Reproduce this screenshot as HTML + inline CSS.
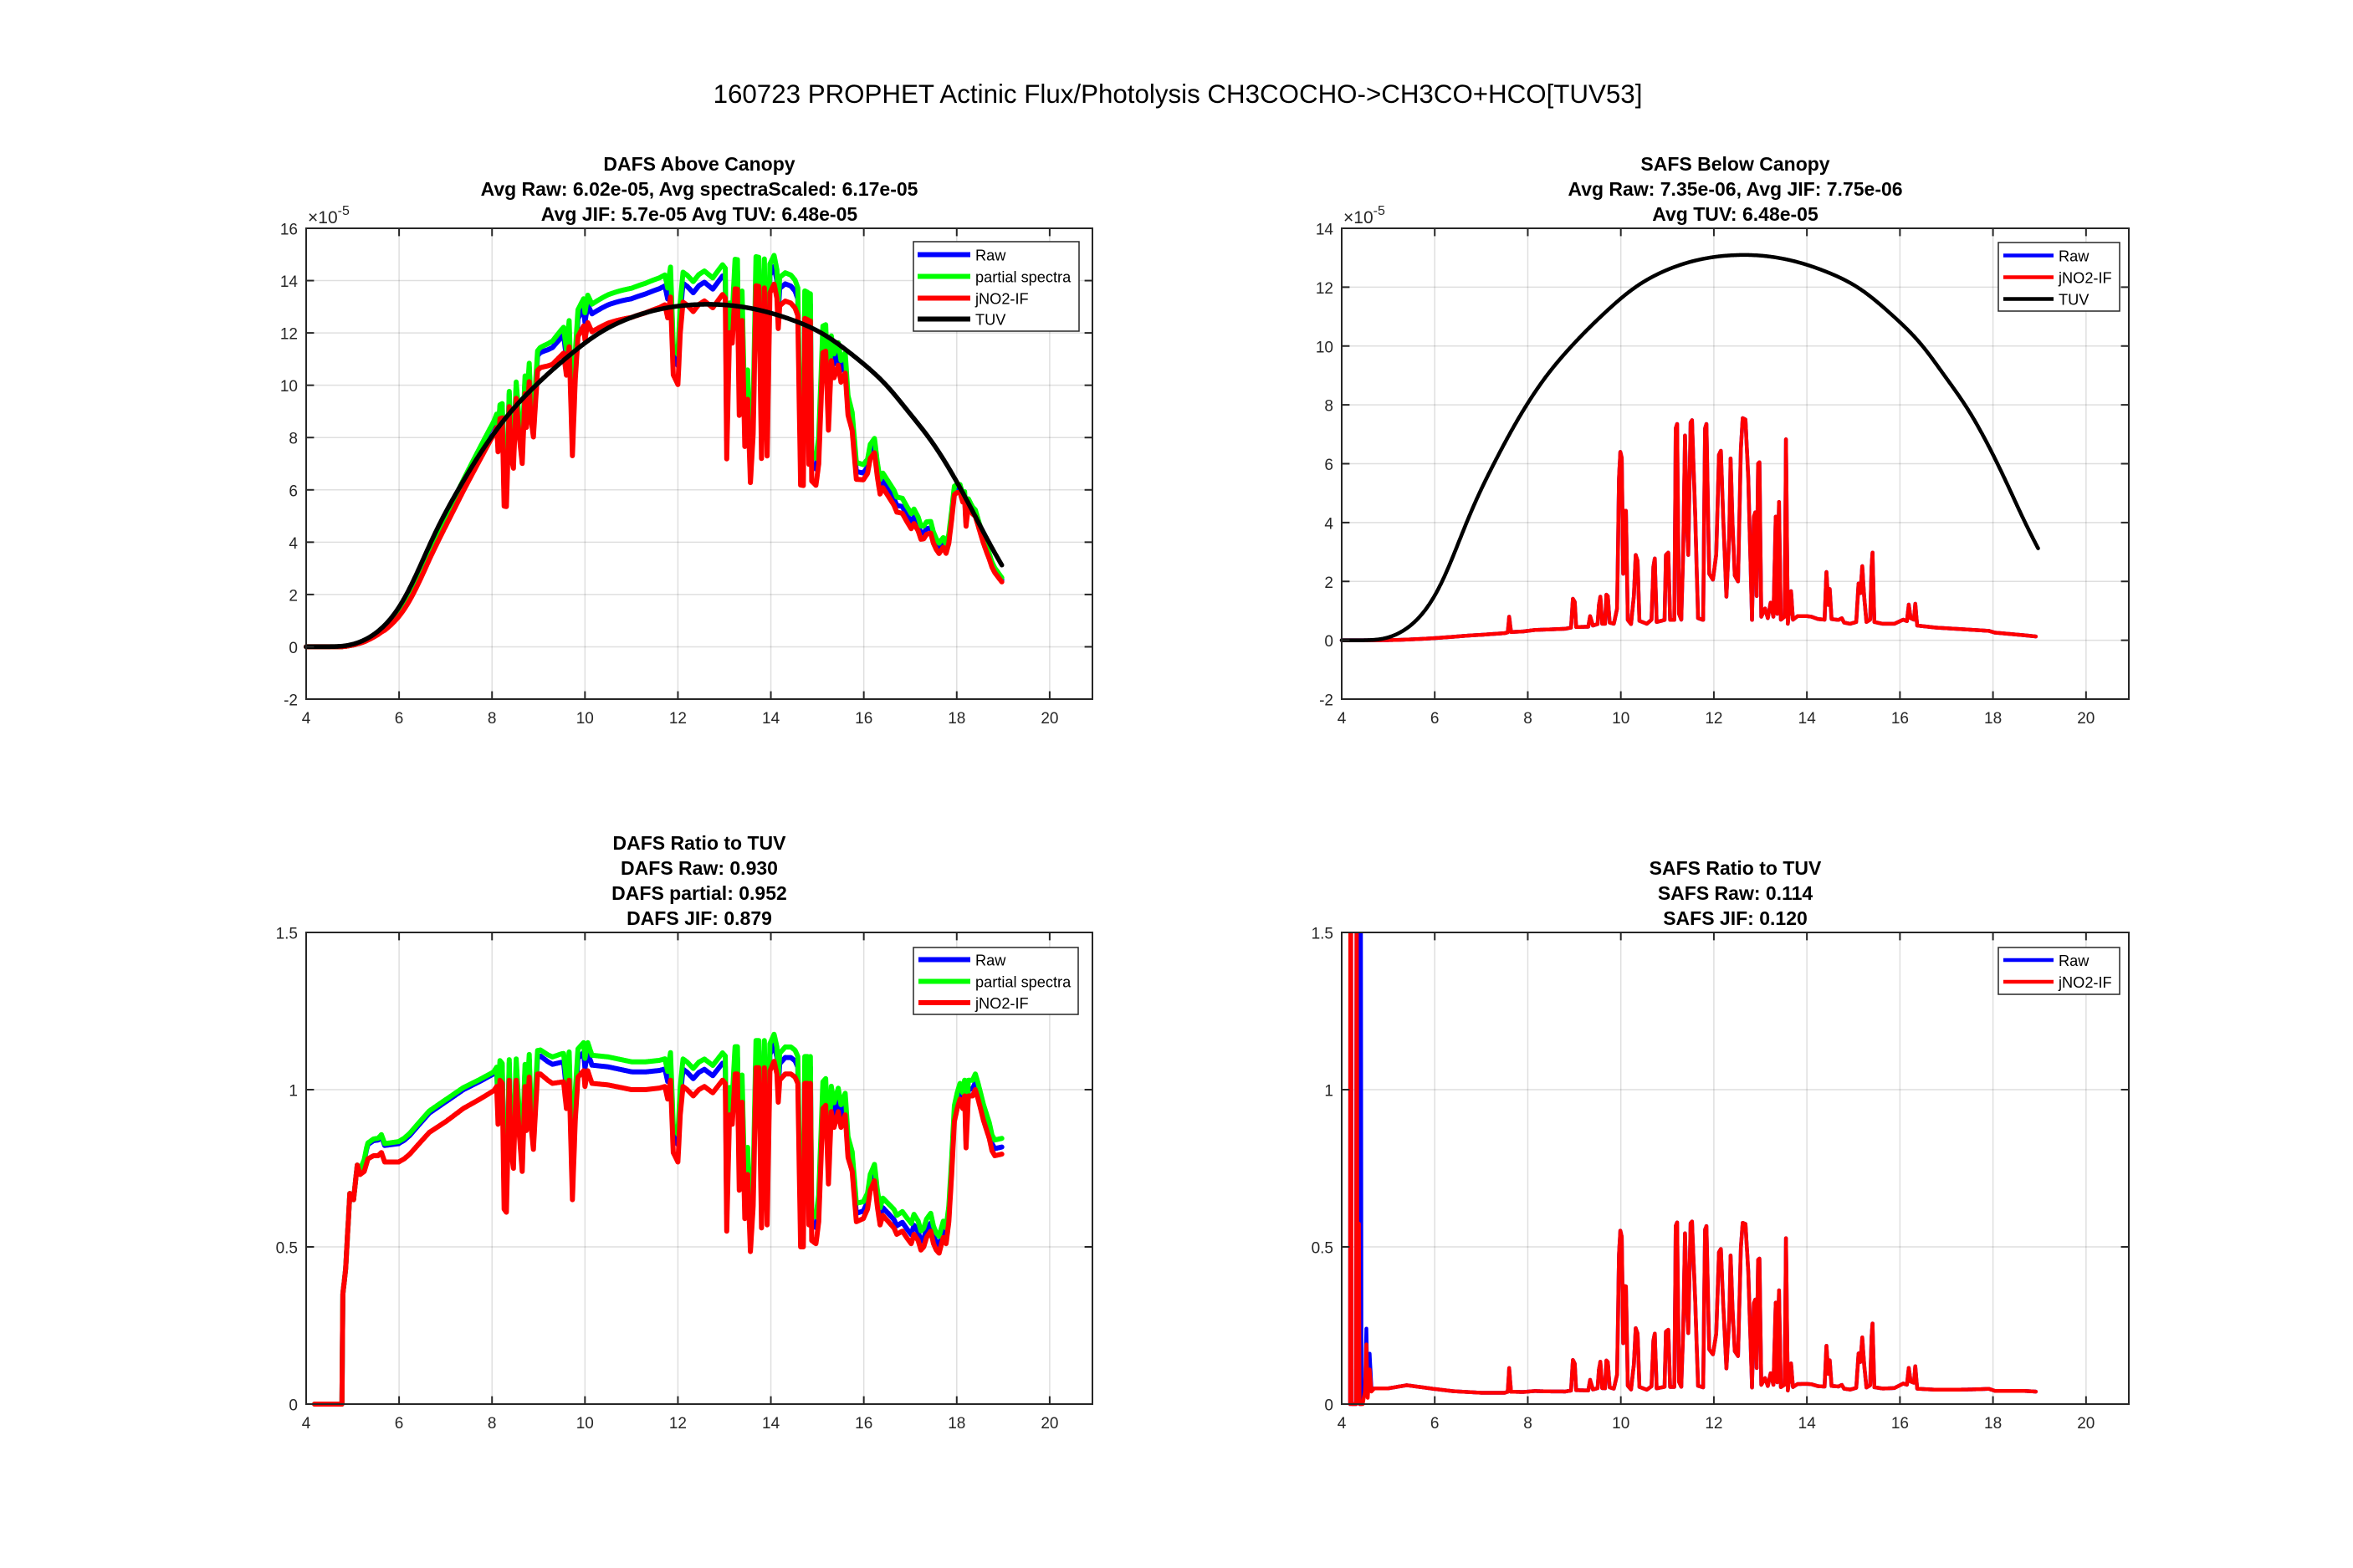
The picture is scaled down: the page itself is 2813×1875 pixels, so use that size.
<!DOCTYPE html>
<html><head><meta charset="utf-8">
<style>
html,body{margin:0;padding:0;background:#fff;overflow:hidden;}
svg{display:block}
text{font-family:"Liberation Sans",Arial,Helvetica,sans-serif;}
.tk{font-size:19px;fill:#262626}
.ti{font-size:23px;font-weight:bold;fill:#000}
.lg{font-size:18.2px;fill:#000}
</style></head><body>
<svg id="chart" width="2813" height="1875" viewBox="0 0 2813 1875" xmlns="http://www.w3.org/2000/svg">
<rect x="0" y="0" width="2813" height="1875" fill="#fff"/>
<g id="grid"></g>
<g id="data"></g>
<g id="axes"></g>

<!-- main title -->
<text x="1408" y="123" text-anchor="middle" font-size="31.3" fill="#000">160723 PROPHET Actinic Flux/Photolysis CH3COCHO-&gt;CH3CO+HCO[TUV53]</text>

<!-- subplot titles -->
<text class="ti" x="836" y="204" text-anchor="middle">DAFS Above Canopy</text>
<text class="ti" x="836" y="234" text-anchor="middle">Avg Raw: 6.02e-05, Avg spectraScaled: 6.17e-05</text>
<text class="ti" x="836" y="264" text-anchor="middle">Avg JIF: 5.7e-05 Avg TUV: 6.48e-05</text>

<text class="ti" x="2074.5" y="204" text-anchor="middle">SAFS Below Canopy</text>
<text class="ti" x="2074.5" y="234" text-anchor="middle">Avg Raw: 7.35e-06, Avg JIF: 7.75e-06</text>
<text class="ti" x="2074.5" y="264" text-anchor="middle">Avg TUV: 6.48e-05</text>

<text class="ti" x="836" y="1016" text-anchor="middle">DAFS Ratio to TUV</text>
<text class="ti" x="836" y="1046" text-anchor="middle">DAFS Raw: 0.930</text>
<text class="ti" x="836" y="1076" text-anchor="middle">DAFS partial: 0.952</text>
<text class="ti" x="836" y="1106" text-anchor="middle">DAFS JIF: 0.879</text>

<text class="ti" x="2074.5" y="1046" text-anchor="middle">SAFS Ratio to TUV</text>
<text class="ti" x="2074.5" y="1076" text-anchor="middle">SAFS Raw: 0.114</text>
<text class="ti" x="2074.5" y="1106" text-anchor="middle">SAFS JIF: 0.120</text>

<!-- exponent labels -->
<text x="368" y="267" font-size="21" fill="#262626">×10<tspan dy="-10" font-size="16">-5</tspan></text>
<text x="1606" y="267" font-size="21" fill="#262626">×10<tspan dy="-10" font-size="16">-5</tspan></text>

<!-- x tick labels -->
<g class="tk" text-anchor="middle">
<text x="366" y="865">4</text><text x="477.1" y="865">6</text><text x="588.2" y="865">8</text><text x="699.3" y="865">10</text><text x="810.4" y="865">12</text><text x="921.6" y="865">14</text><text x="1032.7" y="865">16</text><text x="1143.8" y="865">18</text><text x="1254.9" y="865">20</text>
<text x="1604" y="865">4</text><text x="1715.2" y="865">6</text><text x="1826.5" y="865">8</text><text x="1937.7" y="865">10</text><text x="2048.9" y="865">12</text><text x="2160.2" y="865">14</text><text x="2271.4" y="865">16</text><text x="2382.6" y="865">18</text><text x="2493.8" y="865">20</text>
<text x="366" y="1708">4</text><text x="477.1" y="1708">6</text><text x="588.2" y="1708">8</text><text x="699.3" y="1708">10</text><text x="810.4" y="1708">12</text><text x="921.6" y="1708">14</text><text x="1032.7" y="1708">16</text><text x="1143.8" y="1708">18</text><text x="1254.9" y="1708">20</text>
<text x="1604" y="1708">4</text><text x="1715.2" y="1708">6</text><text x="1826.5" y="1708">8</text><text x="1937.7" y="1708">10</text><text x="2048.9" y="1708">12</text><text x="2160.2" y="1708">14</text><text x="2271.4" y="1708">16</text><text x="2382.6" y="1708">18</text><text x="2493.8" y="1708">20</text>
</g>

<!-- y tick labels -->
<g class="tk" text-anchor="end">
<text x="356" y="843.5">-2</text><text x="356" y="780.9">0</text><text x="356" y="718.4">2</text><text x="356" y="655.8">4</text><text x="356" y="593.3">6</text><text x="356" y="530.7">8</text><text x="356" y="468.2">10</text><text x="356" y="405.6">12</text><text x="356" y="343.1">14</text><text x="356" y="280.5">16</text>
<text x="1594" y="843.5">-2</text><text x="1594" y="773.1">0</text><text x="1594" y="702.8">2</text><text x="1594" y="632.4">4</text><text x="1594" y="562">6</text><text x="1594" y="491.6">8</text><text x="1594" y="421.3">10</text><text x="1594" y="350.9">12</text><text x="1594" y="280.5">14</text>
<text x="356" y="1686.5">0</text><text x="356" y="1498.5">0.5</text><text x="356" y="1310.5">1</text><text x="356" y="1122.5">1.5</text>
<text x="1594" y="1686.5">0</text><text x="1594" y="1498.5">0.5</text><text x="1594" y="1310.5">1</text><text x="1594" y="1122.5">1.5</text>
</g>

<!-- legend 1 -->
<rect x="1092" y="289" width="198" height="107" fill="#fff" stroke="#262626" stroke-width="1.5"/>
<line x1="1097" y1="304.5" x2="1160" y2="304.5" stroke="#0000ff" stroke-width="6"/>
<line x1="1097" y1="330.5" x2="1160" y2="330.5" stroke="#00ff00" stroke-width="6"/>
<line x1="1097" y1="356.5" x2="1160" y2="356.5" stroke="#ff0000" stroke-width="6"/>
<line x1="1097" y1="381.5" x2="1160" y2="381.5" stroke="#000000" stroke-width="6"/>
<text class="lg" x="1166" y="311.5">Raw</text>
<text class="lg" x="1166" y="337.5">partial spectra</text>
<text class="lg" x="1166" y="363.5">jNO2-IF</text>
<text class="lg" x="1166" y="388.5">TUV</text>

<!-- legend 2 -->
<rect x="2389" y="290" width="145" height="82" fill="#fff" stroke="#262626" stroke-width="1.5"/>
<line x1="2395" y1="305.5" x2="2455" y2="305.5" stroke="#0000ff" stroke-width="4.5"/>
<line x1="2395" y1="331.5" x2="2455" y2="331.5" stroke="#ff0000" stroke-width="4.5"/>
<line x1="2395" y1="357.5" x2="2455" y2="357.5" stroke="#000000" stroke-width="4.5"/>
<text class="lg" x="2461" y="312.5">Raw</text>
<text class="lg" x="2461" y="338.5">jNO2-IF</text>
<text class="lg" x="2461" y="364.5">TUV</text>

<!-- legend 3 -->
<rect x="1092" y="1133" width="197" height="80" fill="#fff" stroke="#262626" stroke-width="1.5"/>
<line x1="1098" y1="1147.5" x2="1160" y2="1147.5" stroke="#0000ff" stroke-width="6"/>
<line x1="1098" y1="1173.5" x2="1160" y2="1173.5" stroke="#00ff00" stroke-width="6"/>
<line x1="1098" y1="1199" x2="1160" y2="1199" stroke="#ff0000" stroke-width="6"/>
<text class="lg" x="1166" y="1154.5">Raw</text>
<text class="lg" x="1166" y="1180.5">partial spectra</text>
<text class="lg" x="1166" y="1206">jNO2-IF</text>

<!-- legend 4 -->
<rect x="2389" y="1133" width="145" height="56" fill="#fff" stroke="#262626" stroke-width="1.5"/>
<line x1="2395" y1="1148" x2="2455" y2="1148" stroke="#0000ff" stroke-width="4.5"/>
<line x1="2395" y1="1174" x2="2455" y2="1174" stroke="#ff0000" stroke-width="4.5"/>
<text class="lg" x="2461" y="1155">Raw</text>
<text class="lg" x="2461" y="1181">jNO2-IF</text>
</svg>

<script>
(function(){
var NS='http://www.w3.org/2000/svg';
var svg=document.getElementById('chart');
var gGrid=document.getElementById('grid'), gData=document.getElementById('data'), gAxes=document.getElementById('axes');
function mk(p,tag,at){var e=document.createElementNS(NS,tag);for(var k in at)e.setAttribute(k,at[k]);p.appendChild(e);return e;}
var XS=4, XW=16.92;
var A=[
 {L:366,R:1306,T:273,B:836,y0:-2,y1:16,yt:[-2,0,2,4,6,8,10,12,14,16]},
 {L:1604,R:2545,T:273,B:836,y0:-2,y1:14,yt:[-2,0,2,4,6,8,10,12,14]},
 {L:366,R:1306,T:1115,B:1679,y0:0,y1:1.5,yt:[0,0.5,1,1.5]},
 {L:1604,R:2545,T:1115,B:1679,y0:0,y1:1.5,yt:[0,0.5,1,1.5]}];
var XT=[4,6,8,10,12,14,16,18,20];
function X(a,t){return a.L+(t-XS)/XW*(a.R-a.L);}
function Y(a,v){return a.B-(v-a.y0)/(a.y1-a.y0)*(a.B-a.T);}
var defs=mk(svg,'defs',{});
A.forEach(function(a,i){
  var cp=mk(defs,'clipPath',{id:'c'+i});
  mk(cp,'rect',{x:a.L-3,y:a.T,width:a.R-a.L+6,height:a.B-a.T+5});
  XT.forEach(function(t){
    var x=X(a,t);
    if(t>4) mk(gGrid,'line',{x1:x,x2:x,y1:a.T,y2:a.B,stroke:'#262626','stroke-opacity':0.15,'stroke-width':1.5});
    mk(gAxes,'line',{x1:x,x2:x,y1:a.B,y2:a.B-9.4,stroke:'#262626','stroke-width':2});
    mk(gAxes,'line',{x1:x,x2:x,y1:a.T,y2:a.T+9.4,stroke:'#262626','stroke-width':2});
  });
  a.yt.forEach(function(v){
    var y=Y(a,v);
    if(v>a.y0 && v<a.y1) mk(gGrid,'line',{x1:a.L,x2:a.R,y1:y,y2:y,stroke:'#262626','stroke-opacity':0.15,'stroke-width':1.5});
    mk(gAxes,'line',{x1:a.L,x2:a.L+9.4,y1:y,y2:y,stroke:'#262626','stroke-width':2});
    mk(gAxes,'line',{x1:a.R,x2:a.R-9.4,y1:y,y2:y,stroke:'#262626','stroke-width':2});
  });
  mk(gAxes,'rect',{x:a.L,y:a.T,width:a.R-a.L,height:a.B-a.T,fill:'none',stroke:'#262626','stroke-width':2});
});

function lin(P,t){
  var n=P.length; if(t<=P[0][0]) return P[0][1]; if(t>=P[n-1][0]) return P[n-1][1];
  var lo=0,hi=n-1; while(hi-lo>1){var m=(lo+hi)>>1; if(P[m][0]<=t) lo=m; else hi=m;}
  var t0=P[lo][0],v0=P[lo][1],t1=P[hi][0],v1=P[hi][1];
  return v0+(v1-v0)*(t-t0)/(t1-t0);
}
function mono(pts){
  var n=pts.length, xs=pts.map(function(p){return p[0];}), ys=pts.map(function(p){return p[1];});
  var d=[],m=[],i;
  for(i=0;i<n-1;i++) d.push((ys[i+1]-ys[i])/(xs[i+1]-xs[i]));
  m[0]=d[0]; m[n-1]=d[n-2];
  for(i=1;i<n-1;i++){ if(d[i-1]*d[i]<=0) m[i]=0; else m[i]=(d[i-1]+d[i])/2; }
  for(i=0;i<n-1;i++){
    if(d[i]===0){m[i]=0;m[i+1]=0;continue;}
    var a=m[i]/d[i], b=m[i+1]/d[i], s=a*a+b*b;
    if(s>9){var tau=3/Math.sqrt(s); m[i]=tau*a*d[i]; m[i+1]=tau*b*d[i];}
  }
  return function(x){
    if(x<=xs[0]) return ys[0]; if(x>=xs[n-1]) return ys[n-1];
    var k=0; while(x>xs[k+1]) k++;
    var h=xs[k+1]-xs[k], t=(x-xs[k])/h, t2=t*t, t3=t2*t;
    return (2*t3-3*t2+1)*ys[k]+(t3-2*t2+t)*h*m[k]+(-2*t3+3*t2)*ys[k+1]+(t3-t2)*h*m[k+1];
  };
}
var TUVP=[[4,0],[4.6,0],[4.8,0.01],[5.0,0.07],[5.2,0.19],[5.4,0.37],[5.6,0.63],[5.8,0.98],[6.0,1.45],[6.15,1.9],[6.4,2.85],[6.65,3.9],[6.95,5.0],[7.27,6.0],[7.6,7.0],[7.97,8.0],[8.4,9.0],[8.94,10.0],[9.5,10.9],[10.3,12.0],[11.0,12.6],[11.8,12.98],[12.68,13.1],[13.5,12.97],[14.3,12.6],[15.1,12.0],[15.8,11.1],[16.5,10.0],[16.95,9.0],[17.41,8.0],[17.78,7.0],[18.1,6.0],[18.4,5.0],[18.68,4.0],[18.97,3.12]];
var TUV0=mono(TUVP);
// Smoothed TUV (gaussian) to remove interpolation kinks
var TG0=3.5, TGd=0.01, TGn=1601, rawT=[], smT=[];
for(var i=0;i<TGn;i++){var t=TG0+i*TGd; var v=(t>18.97)?(3.12-(t-18.97)*3.0):TUV0(t); rawT.push(v);}
var sig=0.2, kr=60, ker=[], ks=0;
for(var k=-kr;k<=kr;k++){var w=Math.exp(-0.5*Math.pow(k*TGd/sig,2)); ker.push(w); ks+=w;}
for(var i=0;i<TGn;i++){var s=0; for(var k=-kr;k<=kr;k++){var j=Math.min(TGn-1,Math.max(0,i+k)); s+=rawT[j]*ker[k+kr];} smT.push(Math.max(0,s/ks));}
function TUV(t){var x=(t-TG0)/TGd; if(x<=0) return smT[0]; if(x>=TGn-1) return smT[TGn-1]; var i=Math.floor(x), f=x-i; return smT[i]*(1-f)+smT[i+1]*f;}

var R=[[4.18,0],[4.77,0],[4.79,0.35],[4.85,0.43],[4.94,0.67],[5.02,0.65],[5.1,0.76],[5.16,0.73],[5.25,0.74],[5.33,0.78],[5.45,0.79],[5.55,0.79],[5.62,0.8],[5.69,0.77],[5.85,0.77],[5.99,0.77],[6.11,0.78],[6.23,0.795],[6.41,0.825],[6.65,0.864],[7.02,0.90],[7.38,0.94],[7.74,0.97],[8.04,0.997],[8.1,1.01],
[8.13,0.89],[8.17,1.03],[8.22,1.02],[8.26,0.62],[8.31,0.61],[8.37,1.03],[8.4,0.82],[8.46,0.75],[8.52,1.03],[8.58,0.87],[8.65,0.74],[8.71,1.01],[8.74,0.87],[8.8,1.04],[8.83,0.9],[8.89,0.81],[8.98,1.05],[9.04,1.05],[9.2,1.03],[9.3,1.02],[9.54,1.025],[9.6,0.94],[9.66,1.03],[9.73,0.65],[9.79,0.9],[9.85,1.04],[9.97,1.06],[10.0,1.01],[10.06,1.06],[10.15,1.02],[10.5,1.015],[11.0,1.0],[11.3,1.0],[11.6,1.005],[11.72,1.01],[11.78,0.97],[11.84,1.03],[11.9,0.8],[12.0,0.77],[12.05,0.92],[12.11,1.01],[12.2,1.0],[12.33,0.98],[12.45,1.0],[12.57,1.01],[12.75,0.99],[12.96,1.03],[13.02,1.02],[13.05,0.55],[13.11,0.92],[13.17,0.89],[13.23,1.05],[13.28,1.05],[13.32,0.68],[13.38,0.96],[13.44,0.59],[13.5,0.73],[13.56,0.485],[13.62,0.63],[13.68,1.07],[13.74,1.07],[13.8,0.56],[13.86,1.07],[13.92,0.57],[13.98,1.06],[14.07,1.09],[14.13,1.05],[14.16,0.96],[14.19,1.03],[14.31,1.05],[14.43,1.05],[14.52,1.04],[14.58,1.02],[14.64,0.5],[14.7,0.5],[14.73,1.02],[14.79,1.02],[14.82,0.57],[14.85,1.02],[14.88,0.52],[14.97,0.51],[15.03,0.58],[15.12,0.94],[15.18,0.95],[15.24,0.7],[15.3,0.93],[15.36,0.88],[15.45,0.93],[15.51,0.88],[15.6,0.92],[15.66,0.785],[15.75,0.74],[15.84,0.58],[15.99,0.59],[16.08,0.62],[16.14,0.68],[16.23,0.71],[16.29,0.63],[16.35,0.57],[16.41,0.6],[16.53,0.58],[16.65,0.56],[16.71,0.54],[16.83,0.55],[16.92,0.53],[17.02,0.51],[17.08,0.54],[17.17,0.52],[17.23,0.49],[17.29,0.5],[17.35,0.53],[17.44,0.55],[17.5,0.51],[17.56,0.49],[17.62,0.48],[17.71,0.53],[17.77,0.51],[17.83,0.58],[17.89,0.73],[17.95,0.9],[18.01,0.94],[18.07,0.97],[18.13,0.94],[18.17,0.98],[18.2,0.815],[18.25,0.98],[18.34,0.98],[18.4,1.0],[18.46,0.97],[18.58,0.9],[18.7,0.845],[18.76,0.805],[18.82,0.79],[18.97,0.795]];
var O=[[4,0],[5.1,0],[5.3,0.05],[6,0.065],[7,0.07],[8,0.06],[9,0.075],[9.5,0.09],[15.2,0.085],[15.8,0.06],[16.1,0.05],[17,0.065],[17.8,0.05],[19,0.05]];
var F=[[4,0.9],[8,0.9],[9,0.75],[10,0.65],[15.3,0.6],[15.8,0.45],[19,0.45]];
function rRed(t){return t<4.18?0:lin(R,t);}
function rGrn(t){return t<4.18?0:lin(R,t)+lin(O,t);}
function rBlu(t){return t<4.18?0:lin(R,t)+lin(F,t)*lin(O,t);}

var Bb=[[4.6,0.05],[5.0,0.05],[5.4,0.06],[6,0.048],[6.4,0.041],[7,0.036],[7.6,0.036]];
var SL=[[7.5,0.24],[7.57,0.27],[7.6,0.8],[7.64,0.28],[7.9,0.3],[8.15,0.35],[8.5,0.37],[8.8,0.39],[8.93,0.43],[8.97,1.41],[9.01,1.3],[9.04,0.45],[9.3,0.46],[9.34,0.82],[9.4,0.5],[9.5,0.55],[9.53,1.2],[9.56,1.48],[9.6,0.56],[9.66,0.56],[9.69,1.55],[9.72,1.5],[9.76,0.6],[9.85,0.56],[9.92,1.08],[9.96,5.5],[9.99,6.4],[10.02,6.2],[10.05,2.26],[10.08,4.4],[10.11,4.4],[10.15,0.69],[10.22,0.55],[10.28,1.5],[10.32,2.9],[10.36,2.7],[10.4,0.66],[10.56,0.56],[10.66,0.7],[10.7,2.5],[10.73,2.78],[10.77,0.62],[10.94,0.69],[10.97,2.9],[11.02,2.98],[11.06,0.69],[11.15,0.69],[11.18,7.2],[11.21,7.35],[11.25,0.9],[11.3,0.7],[11.34,3],[11.38,6.96],[11.42,4],[11.45,2.9],[11.5,7.4],[11.53,7.48],[11.6,4.2],[11.66,0.75],[11.77,0.69],[11.81,7.2],[11.84,7.35],[11.9,2.26],[11.98,2.06],[12.05,2.9],[12.11,6.3],[12.15,6.44],[12.2,4.2],[12.27,1.48],[12.33,3.5],[12.36,6.18],[12.4,4],[12.45,2.2],[12.52,2.0],[12.58,6.5],[12.62,7.55],[12.68,7.5],[12.74,5.5],[12.82,0.69],[12.86,4.2],[12.89,4.35],[12.92,1.5],[12.95,6.0],[12.98,6.05],[13.02,0.8],[13.1,1.08],[13.16,0.75],[13.22,1.28],[13.28,0.8],[13.33,4.2],[13.36,0.9],[13.4,4.7],[13.44,0.7],[13.52,0.8],[13.55,6.83],[13.59,0.56],[13.66,1.67],[13.7,0.7],[13.8,0.82],[14.0,0.82],[14.1,0.8],[14.24,0.72],[14.38,0.7],[14.42,2.32],[14.46,1.2],[14.49,1.74],[14.53,0.72],[14.68,0.69],[14.75,0.75],[14.8,0.6],[14.93,0.56],[15.06,0.62],[15.11,1.93],[15.15,1.6],[15.19,2.52],[15.23,1.5],[15.28,0.62],[15.36,0.7],[15.39,2.5],[15.41,2.98],[15.45,0.62],[15.63,0.56],[15.88,0.56],[16.07,0.7],[16.15,0.65],[16.19,1.21],[16.23,0.75],[16.3,0.7],[16.33,1.24],[16.37,0.5],[16.77,0.43],[17.4,0.37],[17.91,0.32],[18.04,0.26],[18.67,0.17],[18.92,0.13]];
function S(t){ if(t<4.6) return 0; return t<7.5 ? lin(Bb,t)*TUV(t) : lin(SL,t); }
var E=[[4.18,0],[4.185,2],[4.2,2],[4.215,0],[4.31,0],[4.32,2],[4.335,0.574],[4.37,0.574],[4.385,0],[4.45,0],[4.5,0.04],[4.53,0.19],[4.56,0.02],[4.6,0.11],[4.64,0.04],[4.7,0.05]];
var EB=[[4.18,0],[4.185,2],[4.2,2],[4.215,0],[4.31,0],[4.32,2],[4.335,0.574],[4.37,0.574],[4.385,0],[4.4,0],[4.41,2],[4.425,0],[4.5,0.04],[4.53,0.24],[4.56,0.03],[4.6,0.16],[4.64,0.05],[4.7,0.05]];
function rS(t){ return t<7.5 ? lin(Bb,t) : lin(SL,t)/TUV(t); }
function rSR(t){ return t<4.7 ? lin(E,t) : rS(t); }
function rSB(t){ return t<4.7 ? lin(EB,t) : rS(t); }

function samples(t0,t1,lists){
  var s={}, arr=[];
  for(var t=t0;t<=t1+1e-9;t+=0.01) s[(+t.toFixed(3))]=1;
  lists.forEach(function(P){P.forEach(function(p){ if(p[0]>=t0&&p[0]<=t1) s[p[0]]=1; });});
  s[t0]=1; s[t1]=1;
  for(var k in s) arr.push(+k);
  arr.sort(function(a,b){return a-b;});
  return arr;
}
function path(ai,ts,f,color,w){
  var a=A[ai], d='';
  for(var i=0;i<ts.length;i++){ var t=ts[i], v=f(t); if(!isFinite(v)) v=a.y1+5; if(v>a.y1+5) v=a.y1+5;
    d+=(i?'L':'M')+X(a,t).toFixed(1)+','+Y(a,v).toFixed(1); }
  mk(gData,'path',{d:d,fill:'none',stroke:color,'stroke-width':w,'stroke-linejoin':'round','stroke-linecap':'round','clip-path':'url(#c'+ai+')'});
}
// Axes 1
var ts1=samples(4,18.97,[R,O]);
path(0,ts1,function(t){return rBlu(t)*TUV(t);},'#0000ff',6);
path(0,ts1,function(t){return rGrn(t)*TUV(t);},'#00ff00',6);
path(0,ts1,function(t){return rRed(t)*TUV(t);},'#ff0000',6);
path(0,samples(4,18.97,[]),TUV,'#000000',5.5);
// Axes 2
var ts2=samples(4,18.92,[SL,Bb]);
path(1,ts2,S,'#0000ff',4.5);
path(1,ts2,S,'#ff0000',4.5);
path(1,samples(4,18.97,[]),TUV,'#000000',4.5);
// Axes 3
var ts3=samples(4.18,18.97,[R,O]);
path(2,ts3,rBlu,'#0000ff',6);
path(2,ts3,rGrn,'#00ff00',6);
path(2,ts3,rRed,'#ff0000',6);
// Axes 4
var ts4=samples(4.18,18.92,[E,EB,SL,Bb]);
path(3,ts4,rSB,'#0000ff',4.5);
path(3,ts4,rSR,'#ff0000',4.5);
})();
</script>
</body></html>
